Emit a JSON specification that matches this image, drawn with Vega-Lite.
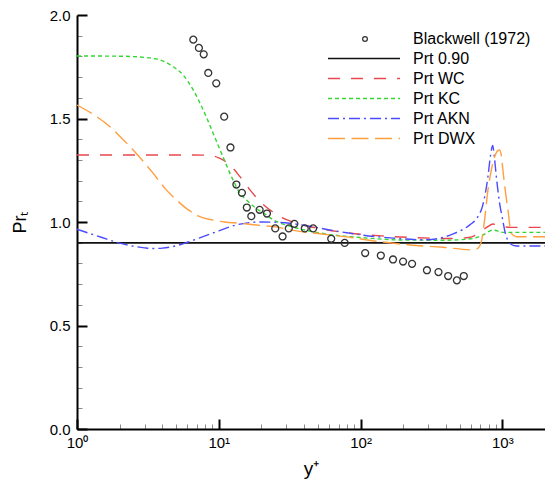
{
  "$schema": "https://vega.github.io/schema/vega-lite/v6.json",
  "width": 468,
  "height": 414,
  "autosize": {"type": "none"},
  "padding": {"left": 77, "top": 15, "right": 0, "bottom": 53},
  "background": "white",
  "config": {"view": {"stroke": null}, "font": "Liberation Sans", "axis": {"zindex": 1}},
  "datasets": {
    "lines": [
      {"model": "Prt 0.90", "yp": 1, "prt": 0.9},
      {"model": "Prt 0.90", "yp": 2000, "prt": 0.9},
      {"model": "Prt WC", "yp": 1, "prt": 1.324},
      {"model": "Prt WC", "yp": 3, "prt": 1.324},
      {"model": "Prt WC", "yp": 6, "prt": 1.324},
      {"model": "Prt WC", "yp": 8, "prt": 1.323},
      {"model": "Prt WC", "yp": 9, "prt": 1.32},
      {"model": "Prt WC", "yp": 10, "prt": 1.31},
      {"model": "Prt WC", "yp": 10.7, "prt": 1.3},
      {"model": "Prt WC", "yp": 11.5, "prt": 1.285},
      {"model": "Prt WC", "yp": 12.6, "prt": 1.26},
      {"model": "Prt WC", "yp": 14.1, "prt": 1.219},
      {"model": "Prt WC", "yp": 16.6, "prt": 1.155},
      {"model": "Prt WC", "yp": 19.5, "prt": 1.1},
      {"model": "Prt WC", "yp": 23, "prt": 1.058},
      {"model": "Prt WC", "yp": 27, "prt": 1.026},
      {"model": "Prt WC", "yp": 35, "prt": 0.995},
      {"model": "Prt WC", "yp": 50, "prt": 0.97},
      {"model": "Prt WC", "yp": 80, "prt": 0.948},
      {"model": "Prt WC", "yp": 140, "prt": 0.933},
      {"model": "Prt WC", "yp": 250, "prt": 0.924},
      {"model": "Prt WC", "yp": 450, "prt": 0.92},
      {"model": "Prt WC", "yp": 580, "prt": 0.925},
      {"model": "Prt WC", "yp": 680, "prt": 0.945},
      {"model": "Prt WC", "yp": 780, "prt": 0.975},
      {"model": "Prt WC", "yp": 860, "prt": 0.99},
      {"model": "Prt WC", "yp": 950, "prt": 0.982},
      {"model": "Prt WC", "yp": 1050, "prt": 0.976},
      {"model": "Prt WC", "yp": 1200, "prt": 0.974},
      {"model": "Prt WC", "yp": 2000, "prt": 0.974},
      {"model": "Prt KC", "yp": 1, "prt": 1.802},
      {"model": "Prt KC", "yp": 2, "prt": 1.801},
      {"model": "Prt KC", "yp": 3, "prt": 1.795},
      {"model": "Prt KC", "yp": 3.85, "prt": 1.783},
      {"model": "Prt KC", "yp": 4.77, "prt": 1.75},
      {"model": "Prt KC", "yp": 5.61, "prt": 1.71},
      {"model": "Prt KC", "yp": 6.6, "prt": 1.638},
      {"model": "Prt KC", "yp": 7.77, "prt": 1.541},
      {"model": "Prt KC", "yp": 9.14, "prt": 1.428},
      {"model": "Prt KC", "yp": 10.7, "prt": 1.315},
      {"model": "Prt KC", "yp": 12.6, "prt": 1.203},
      {"model": "Prt KC", "yp": 14.1, "prt": 1.139},
      {"model": "Prt KC", "yp": 15.7, "prt": 1.106},
      {"model": "Prt KC", "yp": 18, "prt": 1.07},
      {"model": "Prt KC", "yp": 21, "prt": 1.04},
      {"model": "Prt KC", "yp": 24, "prt": 1.012},
      {"model": "Prt KC", "yp": 30, "prt": 0.985},
      {"model": "Prt KC", "yp": 40, "prt": 0.962},
      {"model": "Prt KC", "yp": 60, "prt": 0.94},
      {"model": "Prt KC", "yp": 100, "prt": 0.925},
      {"model": "Prt KC", "yp": 200, "prt": 0.913},
      {"model": "Prt KC", "yp": 400, "prt": 0.912},
      {"model": "Prt KC", "yp": 617, "prt": 0.92},
      {"model": "Prt KC", "yp": 726, "prt": 0.937},
      {"model": "Prt KC", "yp": 860, "prt": 0.961},
      {"model": "Prt KC", "yp": 1010, "prt": 0.95},
      {"model": "Prt KC", "yp": 1200, "prt": 0.95},
      {"model": "Prt KC", "yp": 2000, "prt": 0.95},
      {"model": "Prt AKN", "yp": 1, "prt": 0.965},
      {"model": "Prt AKN", "yp": 1.5, "prt": 0.925},
      {"model": "Prt AKN", "yp": 2, "prt": 0.898},
      {"model": "Prt AKN", "yp": 2.5, "prt": 0.883},
      {"model": "Prt AKN", "yp": 3, "prt": 0.875},
      {"model": "Prt AKN", "yp": 3.4, "prt": 0.872},
      {"model": "Prt AKN", "yp": 4, "prt": 0.874},
      {"model": "Prt AKN", "yp": 5, "prt": 0.885},
      {"model": "Prt AKN", "yp": 6, "prt": 0.902},
      {"model": "Prt AKN", "yp": 8, "prt": 0.933},
      {"model": "Prt AKN", "yp": 10, "prt": 0.957},
      {"model": "Prt AKN", "yp": 13, "prt": 0.984},
      {"model": "Prt AKN", "yp": 16, "prt": 0.996},
      {"model": "Prt AKN", "yp": 20, "prt": 1.0},
      {"model": "Prt AKN", "yp": 27, "prt": 0.998},
      {"model": "Prt AKN", "yp": 35, "prt": 0.99},
      {"model": "Prt AKN", "yp": 46, "prt": 0.977},
      {"model": "Prt AKN", "yp": 60, "prt": 0.962},
      {"model": "Prt AKN", "yp": 80, "prt": 0.948},
      {"model": "Prt AKN", "yp": 100, "prt": 0.938},
      {"model": "Prt AKN", "yp": 170, "prt": 0.922},
      {"model": "Prt AKN", "yp": 290, "prt": 0.914},
      {"model": "Prt AKN", "yp": 380, "prt": 0.925},
      {"model": "Prt AKN", "yp": 450, "prt": 0.943},
      {"model": "Prt AKN", "yp": 520, "prt": 0.962},
      {"model": "Prt AKN", "yp": 590, "prt": 0.986},
      {"model": "Prt AKN", "yp": 673, "prt": 1.026},
      {"model": "Prt AKN", "yp": 720, "prt": 1.07},
      {"model": "Prt AKN", "yp": 750, "prt": 1.12},
      {"model": "Prt AKN", "yp": 792, "prt": 1.22},
      {"model": "Prt AKN", "yp": 825, "prt": 1.32},
      {"model": "Prt AKN", "yp": 855, "prt": 1.37},
      {"model": "Prt AKN", "yp": 880, "prt": 1.31},
      {"model": "Prt AKN", "yp": 907, "prt": 1.22},
      {"model": "Prt AKN", "yp": 957, "prt": 1.09},
      {"model": "Prt AKN", "yp": 1000, "prt": 1.02},
      {"model": "Prt AKN", "yp": 1038, "prt": 0.961},
      {"model": "Prt AKN", "yp": 1080, "prt": 0.92},
      {"model": "Prt AKN", "yp": 1123, "prt": 0.897},
      {"model": "Prt AKN", "yp": 1255, "prt": 0.884},
      {"model": "Prt AKN", "yp": 2000, "prt": 0.884},
      {"model": "Prt DWX", "yp": 1, "prt": 1.565},
      {"model": "Prt DWX", "yp": 1.3, "prt": 1.52},
      {"model": "Prt DWX", "yp": 1.71, "prt": 1.46},
      {"model": "Prt DWX", "yp": 2.1, "prt": 1.4},
      {"model": "Prt DWX", "yp": 2.49, "prt": 1.348},
      {"model": "Prt DWX", "yp": 3, "prt": 1.285},
      {"model": "Prt DWX", "yp": 3.45, "prt": 1.235},
      {"model": "Prt DWX", "yp": 4.2, "prt": 1.16},
      {"model": "Prt DWX", "yp": 5.04, "prt": 1.106},
      {"model": "Prt DWX", "yp": 6, "prt": 1.062},
      {"model": "Prt DWX", "yp": 7.36, "prt": 1.026},
      {"model": "Prt DWX", "yp": 9, "prt": 1.01},
      {"model": "Prt DWX", "yp": 11, "prt": 1.0},
      {"model": "Prt DWX", "yp": 14.1, "prt": 0.994},
      {"model": "Prt DWX", "yp": 17, "prt": 0.988},
      {"model": "Prt DWX", "yp": 20, "prt": 0.983},
      {"model": "Prt DWX", "yp": 26, "prt": 0.975},
      {"model": "Prt DWX", "yp": 31.7, "prt": 0.962},
      {"model": "Prt DWX", "yp": 46, "prt": 0.947},
      {"model": "Prt DWX", "yp": 80, "prt": 0.928},
      {"model": "Prt DWX", "yp": 137, "prt": 0.905},
      {"model": "Prt DWX", "yp": 222, "prt": 0.889},
      {"model": "Prt DWX", "yp": 381, "prt": 0.878},
      {"model": "Prt DWX", "yp": 621, "prt": 0.865},
      {"model": "Prt DWX", "yp": 673, "prt": 0.873},
      {"model": "Prt DWX", "yp": 711, "prt": 0.905},
      {"model": "Prt DWX", "yp": 750, "prt": 1.01},
      {"model": "Prt DWX", "yp": 792, "prt": 1.155},
      {"model": "Prt DWX", "yp": 836, "prt": 1.25},
      {"model": "Prt DWX", "yp": 883, "prt": 1.315},
      {"model": "Prt DWX", "yp": 930, "prt": 1.345},
      {"model": "Prt DWX", "yp": 957, "prt": 1.348},
      {"model": "Prt DWX", "yp": 984, "prt": 1.32},
      {"model": "Prt DWX", "yp": 1010, "prt": 1.25},
      {"model": "Prt DWX", "yp": 1050, "prt": 1.15},
      {"model": "Prt DWX", "yp": 1096, "prt": 1.058},
      {"model": "Prt DWX", "yp": 1157, "prt": 0.945},
      {"model": "Prt DWX", "yp": 1255, "prt": 0.929},
      {"model": "Prt DWX", "yp": 2000, "prt": 0.929}
    ],
    "points": [
      {"src": "Blackwell (1972)", "yp": 6.61, "prt": 1.881},
      {"src": "Blackwell (1972)", "yp": 7.24, "prt": 1.841},
      {"src": "Blackwell (1972)", "yp": 7.83, "prt": 1.81},
      {"src": "Blackwell (1972)", "yp": 8.43, "prt": 1.72},
      {"src": "Blackwell (1972)", "yp": 9.6, "prt": 1.67},
      {"src": "Blackwell (1972)", "yp": 10.92, "prt": 1.509},
      {"src": "Blackwell (1972)", "yp": 12.09, "prt": 1.36},
      {"src": "Blackwell (1972)", "yp": 13.31, "prt": 1.181},
      {"src": "Blackwell (1972)", "yp": 14.56, "prt": 1.141},
      {"src": "Blackwell (1972)", "yp": 15.77, "prt": 1.07},
      {"src": "Blackwell (1972)", "yp": 16.96, "prt": 1.028},
      {"src": "Blackwell (1972)", "yp": 19.41, "prt": 1.059},
      {"src": "Blackwell (1972)", "yp": 21.86, "prt": 1.041},
      {"src": "Blackwell (1972)", "yp": 25.02, "prt": 0.969},
      {"src": "Blackwell (1972)", "yp": 28.18, "prt": 0.93},
      {"src": "Blackwell (1972)", "yp": 31.19, "prt": 0.969},
      {"src": "Blackwell (1972)", "yp": 34.13, "prt": 0.991},
      {"src": "Blackwell (1972)", "yp": 40.42, "prt": 0.969},
      {"src": "Blackwell (1972)", "yp": 46.3, "prt": 0.969},
      {"src": "Blackwell (1972)", "yp": 62.1, "prt": 0.919},
      {"src": "Blackwell (1972)", "yp": 77.3, "prt": 0.899},
      {"src": "Blackwell (1972)", "yp": 107.8, "prt": 0.85},
      {"src": "Blackwell (1972)", "yp": 139, "prt": 0.838},
      {"src": "Blackwell (1972)", "yp": 169.4, "prt": 0.819},
      {"src": "Blackwell (1972)", "yp": 199.5, "prt": 0.809},
      {"src": "Blackwell (1972)", "yp": 230.9, "prt": 0.798},
      {"src": "Blackwell (1972)", "yp": 294, "prt": 0.767},
      {"src": "Blackwell (1972)", "yp": 354.5, "prt": 0.758},
      {"src": "Blackwell (1972)", "yp": 415, "prt": 0.739},
      {"src": "Blackwell (1972)", "yp": 478, "prt": 0.718},
      {"src": "Blackwell (1972)", "yp": 535, "prt": 0.739}
    ]
  },
  "layer": [
    {
      "data": {"name": "lines"},
      "transform": [{"filter": "datum.model == 'Prt 0.90'"}],
      "mark": {"type": "line", "strokeWidth": 1.4, "color": "#111111"},
      "encoding": {
        "x": {
          "field": "yp", "type": "quantitative",
          "scale": {"type": "log", "domain": [1, 2000], "nice": false},
          "axis": {
            "orient": "bottom",
            "values": [2, 3, 4, 5, 6, 7, 8, 9, 20, 30, 40, 50, 60, 70, 80, 90, 200, 300, 400, 500, 600, 700, 800, 900, 2000],
            "labels": false, "domain": false, "title": null, "ticks": false,
            "grid": true, "gridDash": [5, 409], "gridDashOffset": 5, "gridColor": "#8a8a8a", "gridWidth": 1, "gridOpacity": 1
          }
        },
        "y": {
          "field": "prt", "type": "quantitative",
          "scale": {"domain": [0, 2], "nice": false, "zero": false},
          "axis": {
            "orient": "left",
            "values": [0.1, 0.2, 0.3, 0.4, 0.6, 0.7, 0.8, 0.9, 1.1, 1.2, 1.3, 1.4, 1.6, 1.7, 1.8, 1.9],
            "labels": false, "domain": false, "title": null, "ticks": false,
            "grid": true, "gridDash": [5, 3000], "gridDashOffset": 0, "gridColor": "#8a8a8a", "gridWidth": 1, "gridOpacity": 1
          }
        }
      }
    },
    {
      "data": {"name": "lines"},
      "mark": {"type": "line", "strokeWidth": 1.4, "interpolate": "monotone", "clip": true},
      "encoding": {
        "x": {
          "field": "yp", "type": "quantitative",
          "scale": {"type": "log", "domain": [1, 2000], "nice": false},
          "axis": {
            "orient": "bottom",
            "values": [1, 10, 100, 1000],
            "labelExpr": "'10' + (datum.value < 5 ? '⁰' : datum.value < 50 ? '¹' : datum.value < 500 ? '²' : '³')",
            "ticks": false, "tickSize": 0, "grid": false,
            "domainColor": "black", "domainWidth": 2,
            "labelFontSize": 15, "labelColor": "black", "labelPadding": 6,
            "labelFlush": false, "labelOverlap": false,
            "title": "y⁺", "titleFontSize": 19, "titleFontWeight": "normal", "titleColor": "black",
            "titleX": 234, "titleY": 45, "titleBaseline": "alphabetic", "titleAlign": "center"
          }
        },
        "y": {
          "field": "prt", "type": "quantitative",
          "scale": {"domain": [0, 2], "nice": false, "zero": false},
          "axis": {
            "orient": "left",
            "values": [0, 0.5, 1, 1.5, 2],
            "format": ".1f",
            "ticks": false, "tickSize": 0, "grid": false,
            "domainColor": "black", "domainWidth": 2,
            "labelFontSize": 15, "labelColor": "black", "labelPadding": 7,
            "labelFlush": false, "labelOverlap": false,
            "title": "Prₜ", "titleFontSize": 18, "titleFontWeight": "normal", "titleColor": "black",
            "titleX": -52, "titleY": 207, "titleAngle": 270, "titleBaseline": "alphabetic", "titleAlign": "center"
          }
        },
        "color": {
          "field": "model", "type": "nominal",
          "scale": {
            "domain": ["Prt 0.90", "Prt WC", "Prt KC", "Prt AKN", "Prt DWX"],
            "range": ["#111111", "#e8484d", "#33d633", "#4b4bff", "#ff9f3f"]
          },
          "legend": {
            "orient": "none", "legendX": 250, "legendY": 34, "title": null,
            "symbolType": "stroke", "symbolSize": 5184, "symbolStrokeWidth": 1.5,
            "labelFontSize": 16, "labelColor": "black", "labelOffset": 12, "labelLimit": 300,
            "clipHeight": 19.2, "rowPadding": 0, "padding": 0
          }
        },
        "strokeDash": {
          "field": "model", "type": "nominal",
          "scale": {
            "domain": ["Prt 0.90", "Prt WC", "Prt KC", "Prt AKN", "Prt DWX"],
            "range": [[1, 0], [12, 11], [4, 3], [11, 4, 2, 4], [17, 6.5]]
          },
          "legend": {
            "orient": "none", "legendX": 250, "legendY": 34, "title": null,
            "symbolType": "stroke", "symbolSize": 5184, "symbolStrokeWidth": 1.5,
            "labelFontSize": 16, "labelColor": "black", "labelOffset": 12, "labelLimit": 300,
            "clipHeight": 19.2, "rowPadding": 0, "padding": 0
          }
        }
      }
    },
    {
      "data": {"name": "points"},
      "mark": {"type": "point", "shape": "circle", "filled": false, "size": 48, "strokeWidth": 1.3, "color": "#333333", "opacity": 1},
      "encoding": {
        "x": {
          "field": "yp", "type": "quantitative",
          "scale": {"type": "log", "domain": [1, 2000], "nice": false},
          "axis": {
            "orient": "bottom",
            "values": [1, 10, 100, 1000],
            "labels": false, "domain": false, "title": null, "ticks": false,
            "grid": true, "gridDash": [10, 404], "gridDashOffset": 10, "gridColor": "#000000", "gridWidth": 2, "gridOpacity": 1
          }
        },
        "y": {
          "field": "prt", "type": "quantitative",
          "scale": {"domain": [0, 2], "nice": false, "zero": false},
          "axis": {
            "orient": "left",
            "values": [0, 0.5, 1, 1.5, 2],
            "labels": false, "domain": false, "title": null, "ticks": false,
            "grid": true, "gridDash": [10, 3000], "gridDashOffset": 0, "gridColor": "#000000", "gridWidth": 2, "gridOpacity": 1
          }
        },
        "shape": {
          "field": "src", "type": "nominal",
          "scale": {"range": ["circle"]},
          "legend": {
            "orient": "none", "legendX": 280, "legendY": 14.4, "title": null,
            "symbolSize": 22, "symbolStrokeWidth": 1.3, "symbolStrokeColor": "#333333", "symbolFillColor": "transparent",
            "labelFontSize": 16, "labelColor": "black", "labelOffset": 40, "labelLimit": 300,
            "clipHeight": 19.2, "rowPadding": 0, "padding": 0
          }
        }
      }
    }
  ],
  "resolve": {"axis": {"x": "independent", "y": "independent"}}
}
